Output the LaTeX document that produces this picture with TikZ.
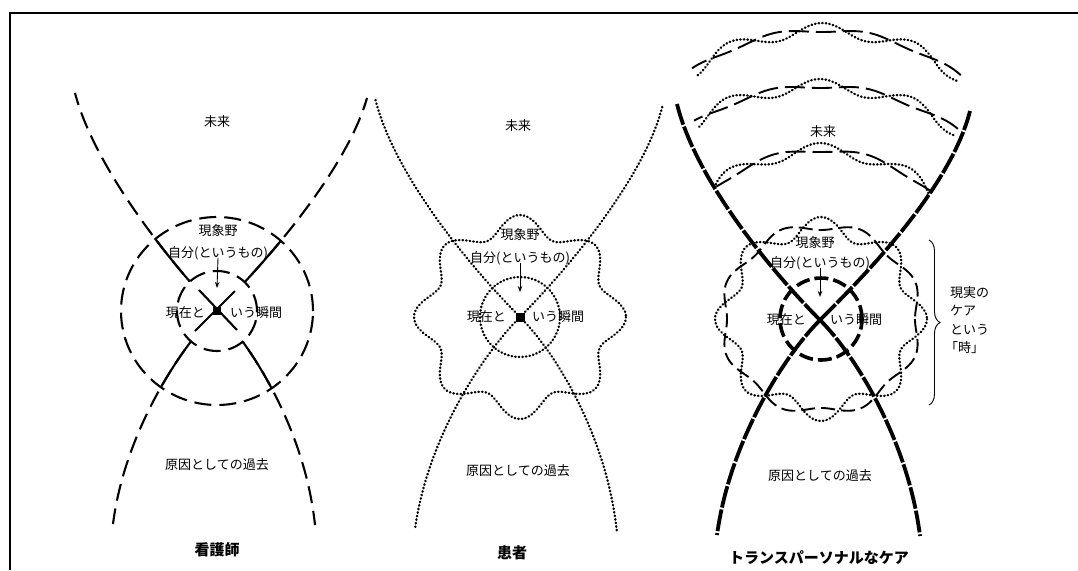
\documentclass[tikz,border=0pt]{standalone}
\usepackage{fontspec}
\setmainfont{Noto Sans CJK JP}
\usetikzlibrary{arrows.meta,decorations.pathreplacing}
\tikzset{
  dsh/.style={line width=2.1pt, dash pattern=on 17pt off 8pt},
  sld/.style={line width=2.1pt},
  dtt/.style={line width=2.4pt, line cap=round, dash pattern=on 0.5pt off 3.1pt},
  thk/.style={line width=3.8pt, dash pattern=on 22pt off 2pt},
  thkc/.style={line width=3.6pt, dash pattern=on 14pt off 5pt},
  rdsh/.style={line width=1.9pt, dash pattern=on 14pt off 6pt},
  fdsh/.style={line width=1.9pt, dash pattern=on 20pt off 7pt},
  lbl/.style={font=\fontsize{13}{15}\selectfont, inner sep=0pt},
  ttl/.style={font=\fontsize{15}{17}\selectfont\bfseries, inner sep=0pt},
  arr/.style={line width=0.9pt, -{Stealth[length=6pt,width=4.5pt]}},
  sq/.style={fill=black, minimum size=#1, inner sep=0pt}
}
\begin{document}
\begin{tikzpicture}[x=1pt,y=-1pt]
\useasboundingbox (0,0) rectangle (1078,570);
% frame
\coordinate (f1) at (10,570);
\coordinate (f2) at (10,13);
\coordinate (f3) at (1078,13);
\draw[line width=1.6pt] (f1) -- (f2) -- (f3);

%%%%%%%%%%%% LEFT PANEL %%%%%%%%%%%%
\coordinate (L) at (217,311);
\coordinate (Lul) at (75,93);
\coordinate (Lur) at (367,98);
\coordinate (Lll) at (113,524);
\coordinate (Llr) at (315,525);
\draw[dsh] (L) .. controls +(-40,-40) and +(20,77) .. (Lul);
\draw[dsh] (L) .. controls +(40,-40) and +(-22,77) .. (Lur);
\draw[dsh] (L) .. controls +(-35,35) and +(12,-94) .. (Lll);
\draw[dsh] (L) .. controls +(35,35) and +(-10,-95) .. (Llr);
\begin{scope}
  \clip (L) ellipse [x radius=96pt, y radius=94pt];
  \draw[sld] (L) .. controls +(-40,-40) and +(20,77) .. (Lul);
  \draw[sld] (L) .. controls +(40,-40) and +(-22,77) .. (Lur);
  \draw[sld] (L) .. controls +(-35,35) and +(12,-94) .. (Lll);
  \draw[sld] (L) .. controls +(35,35) and +(-10,-95) .. (Llr);
\end{scope}
\fill[white] (L) circle [radius=40pt];
\coordinate (Lx1) at (199,290);
\coordinate (Lx2) at (237,330);
\coordinate (Lx3) at (195,331);
\coordinate (Lx4) at (235,291);
\draw[sld] (Lx1) -- (Lx2);
\draw[sld] (Lx3) -- (Lx4);
\draw[dsh] (L) circle [radius=40pt];
\draw[dsh] (L) ellipse [x radius=96pt, y radius=94pt];
\node[sq=8pt] (Lsq) at (L) {};
\node[lbl] (Lfut) at (217,122) {未来};
\node[lbl] (Lgen) at (218,231) {現象野};
\node[lbl] (Ljib) at (218,253) {自分(というもの)};
\node[lbl, anchor=east] (Lnow1) at (205,313) {現在と};
\node[lbl, anchor=west] (Lnow2) at (230,313) {いう瞬間};
\node[lbl] (Lpast) at (217,465) {原因としての過去};
\node[ttl] (Lttl) at (217,550) {看護師};
\coordinate (La) at (217,288);
\draw[arr] (Ljib.south) ++(0,-2) -- (La);

%%%%%%%%%%%% MIDDLE PANEL %%%%%%%%%%%%
\coordinate (M) at (520,317);
\coordinate (Mul) at (375,98);
\coordinate (Mur) at (663,104);
\coordinate (Mll) at (415,529);
\coordinate (Mlr) at (617,533);
\draw[dtt] (M) .. controls +(-40,-40) and +(20,82) .. (Mul);
\draw[dtt] (M) .. controls +(40,-40) and +(-18,76) .. (Mur);
\draw[dtt] (M) .. controls +(-35,35) and +(13,-94) .. (Mll);
\draw[dtt] (M) .. controls +(35,35) and +(-10,-98) .. (Mlr);
\draw[dtt] (M) circle [radius=40pt];
\draw[dtt] plot[variable=\t, domain=0:360, samples=241]
  ({520+(96+10*cos(8*\t))*cos(\t)}, {317+(92+10*cos(8*\t))*sin(\t)}) -- cycle;
\node[sq=9pt] (Msq) at (M) {};
\node[lbl] (Mfut) at (518,126) {未来};
\node[lbl] (Mgen) at (520,235) {現象野};
\node[lbl] (Mjib) at (520,258) {自分(というもの)};
\node[lbl, anchor=east] (Mnow1) at (506,317) {現在と};
\node[lbl, anchor=west] (Mnow2) at (532,317) {いう瞬間};
\node[lbl] (Mpast) at (518,471) {原因としての過去};
\node[ttl] (Mttl) at (512,553) {患者};
\coordinate (Ma) at (520,292);
\draw[arr] (Mjib.south) ++(0,-2) -- (Ma);

%%%%%%%%%%%% RIGHT PANEL %%%%%%%%%%%%
\coordinate (R) at (820,320);
\coordinate (Rul) at (677,104);
\coordinate (Rur) at (970,111);
\coordinate (Rll) at (717,535);
\coordinate (Rlr) at (920,536);
% future arcs
\draw[fdsh] plot[variable=\t, domain=52.8:124.4, samples=160]
  ({822+(228-2*cos(15.57*(\t-90)))*cos(\t)}, {258-(228-2*cos(15.57*(\t-90)))*sin(\t)});
\draw[dtt] plot[variable=\t, domain=52.8:124.4, samples=160]
  ({822+(228+7*cos(15.57*(\t-90)))*cos(\t)}, {258-(228+7*cos(15.57*(\t-90)))*sin(\t)});
\draw[fdsh] plot[variable=\t, domain=54.2:122.3, samples=160]
  ({820+(234-2*cos(15.98*(\t-90)))*cos(\t)}, {320-(234-2*cos(15.98*(\t-90)))*sin(\t)});
\draw[dtt] plot[variable=\t, domain=54.2:122.3, samples=160]
  ({820+(234+7*cos(15.98*(\t-90)))*cos(\t)}, {320-(234+7*cos(15.98*(\t-90)))*sin(\t)});
\draw[fdsh] plot[variable=\t, domain=48.8:128.5, samples=160]
  ({820+(167-2*cos(11.41*(\t-90)))*cos(\t)}, {317-(167-2*cos(11.41*(\t-90)))*sin(\t)});
\draw[dtt] plot[variable=\t, domain=48.8:128.5, samples=160]
  ({820+(167+7*cos(11.41*(\t-90)))*cos(\t)}, {317-(167+7*cos(11.41*(\t-90)))*sin(\t)});
% ring
\draw[rdsh] plot[variable=\t, domain=0:360, samples=241]
  ({821+(98-4*cos(8*\t))*cos(\t)}, {319+(93-4*cos(8*\t))*sin(\t)}) -- cycle;
\draw[dtt] plot[variable=\t, domain=0:360, samples=241]
  ({821+(96+10*cos(8*\t))*cos(\t)}, {319+(92+10*cos(8*\t))*sin(\t)}) -- cycle;
% thick curves
\draw[thk] (R) .. controls +(-40,-40) and +(20,81) .. (Rul);
\draw[thk] (R) .. controls +(40,-40) and +(-20,79) .. (Rur);
\draw[thk] (R) .. controls +(-35,35) and +(13,-95) .. (Rll);
\draw[thk] (R) .. controls +(35,35) and +(-12,-96) .. (Rlr);
\draw[thkc] (821,319) circle [radius=41pt];
\node[lbl] (Rfut) at (823,132) {未来};
\node[lbl] (Rgen) at (815,243) {現象野};
\node[lbl] (Rjib) at (820,263) {自分(というもの)};
\node[lbl, anchor=east] (Rnow1) at (806,320) {現在と};
\node[lbl, anchor=west] (Rnow2) at (830,320) {いう瞬間};
\node[lbl] (Rpast) at (820,476) {原因としての過去};
\node[ttl] (Rttl) at (819,558) {トランスパーソナルなケア};
\coordinate (Ra) at (820,297);
\draw[arr] (Rjib.south) ++(0,-2) -- (Ra);
% brace
\coordinate (b1) at (929,240);
\coordinate (b2) at (929,405);
\draw[line width=0.9pt, decorate, decoration={brace, amplitude=11pt}] (b1) -- (b2);
\node[lbl, anchor=west] (r1) at (950,293) {現実の};
\node[lbl, anchor=west] (r2) at (950,311) {ケア};
\node[lbl, anchor=west] (r3) at (950,330) {という};
\node[lbl, anchor=west] (r4) at (945,348) {「時」};
\end{tikzpicture}
\end{document}
